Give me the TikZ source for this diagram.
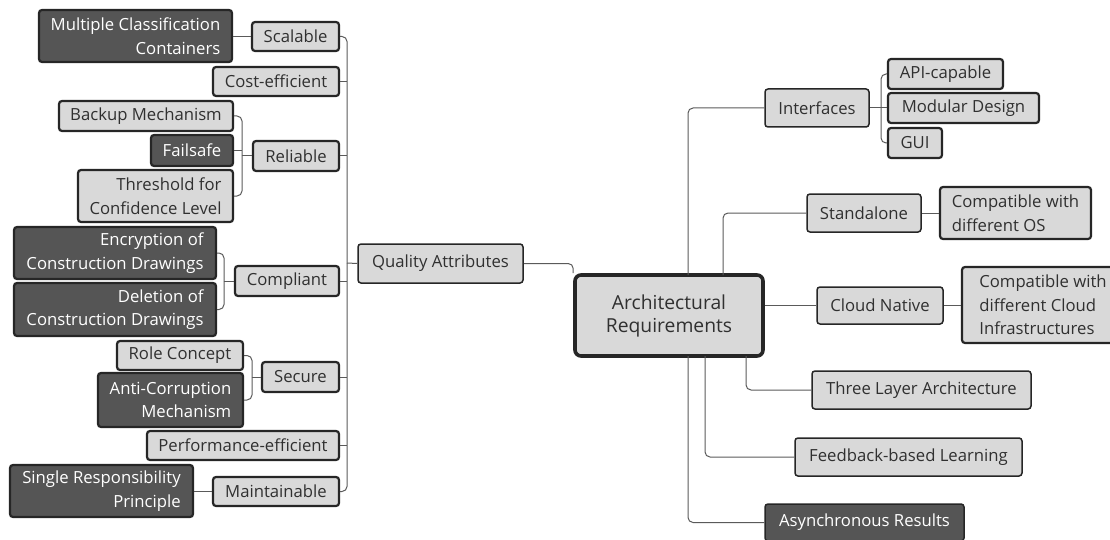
\documentclass[tikz,border=0pt]{standalone}
\usepackage{fontspec}
\setmainfont{Open Sans}
\definecolor{boxfill}{HTML}{D9D9D9}
\definecolor{darkfill}{HTML}{555555}
\definecolor{edge}{HTML}{262626}
\definecolor{wire}{HTML}{5A5A5A}
\definecolor{ink}{HTML}{303030}

% box given by its corners: style, name, x1, y1, x2, y2, text
\newcommand\boxat[7]{\node[#1, minimum width={#5-#3}, minimum height={#6-#4}] (#2) at ({(#3+#5)/2},{(#4+#6)/2}) {#7};}

\begin{document}
\begin{tikzpicture}[x=1pt,y=-1pt,
  base/.style={rectangle, rounded corners=3pt, draw=edge, inner sep=0pt, text=ink,
    font=\fontsize{16.7}{23.5}\selectfont},
  lvl/.style={base, fill=boxfill, line width=1.5pt},
  leaf/.style={base, fill=boxfill, line width=2.2pt},
  darkleaf/.style={base, fill=darkfill, text=white, line width=2.2pt},
  darklvl/.style={base, fill=darkfill, text=white, line width=1.5pt},
  rootbox/.style={base, fill=boxfill, line width=3.6pt, rounded corners=6pt, draw=black!85,
    align=center, font=\fontsize{19.3}{23}\selectfont},
  conn/.style={draw=wire, line width=1pt, rounded corners=5pt}]

\useasboundingbox (0,0) rectangle (1110,540);

% central topic
\boxat{rootbox}{root}{575}{275}{763}{356}{Architectural\\Requirements}

% quality attributes branch
\boxat{lvl}{qa}{358}{244}{523}{283}{Quality Attributes}
\boxat{leaf}{scal}{252}{22}{339}{51}{Scalable}
\boxat{darkleaf,align=right}{mcc}{39}{10}{232}{62}{Multiple Classification\\Containers}
\boxat{leaf}{cost}{213}{67}{339}{96}{Cost-efficient}
\boxat{leaf}{backup}{59}{101}{233}{131}{Backup Mechanism}
\boxat{darkleaf}{fail}{151}{135}{233}{166}{Failsafe}
\boxat{leaf}{rel}{253}{141}{339}{171}{Reliable}
\boxat{leaf,align=right}{thr}{78}{170}{233}{222}{Threshold for\\Confidence Level}
\boxat{darkleaf,align=right}{enc}{14}{227}{216}{279}{Encryption of\\Construction Drawings}
\boxat{leaf}{comp}{235}{266}{339}{296}{Compliant}
\boxat{darkleaf,align=right}{del}{14}{283}{216}{336}{Deletion of\\Construction Drawings}
\boxat{leaf}{role}{117}{341}{243}{370}{Role Concept}
\boxat{darkleaf,align=right}{anti}{98}{373}{243}{427}{Anti-Corruption\\Mechanism}
\boxat{leaf}{sec}{262}{362}{339}{392}{Secure}
\boxat{leaf}{perf}{147}{431}{339}{460}{Performance-efficient}
\boxat{darkleaf,align=right}{srp}{10}{465}{193}{517}{Single Responsibility\\Principle}
\boxat{leaf}{maint}{213}{477}{339}{506}{Maintainable}

% right-hand branches
\boxat{lvl}{int}{765}{89}{869}{127}{Interfaces}
\boxat{leaf}{api}{888}{59}{1003}{89}{API-capable}
\boxat{leaf}{mod}{888}{93}{1039}{123}{Modular Design}
\boxat{leaf}{gui}{888}{128}{942}{158}{GUI}
\boxat{lvl}{sa}{807}{194}{921}{232}{Standalone}
\boxat{leaf,align=left}{cos}{940}{187}{1091}{239}{Compatible with\\different OS}
\boxat{lvl}{cn}{817}{287}{943}{324}{Cloud Native}
\boxat{leaf,align=left}{cci}{962}{267}{1124}{343}{Compatible with\\different Cloud\\Infrastructures}
\boxat{lvl}{tla}{812}{371}{1031}{409}{Three Layer Architecture}
\boxat{lvl}{fbl}{795}{438}{1022}{476}{Feedback-based Learning}
\boxat{darklvl}{asy}{765}{504}{964}{541}{Asynchronous Results}

% junction points
\coordinate (trunk) at (347,263);
\coordinate (relj) at (242,156);
\coordinate (cmpj) at (224,281);
\coordinate (secj) at (252,377);
\coordinate (intj) at (881,108);
\coordinate (topI) at (688,275);
\coordinate (topS) at (723,275);
\coordinate (botT) at (746,356);
\coordinate (botF) at (705,356);
\coordinate (botA) at (688,356);

% trunk of the quality attributes
\draw[conn] (scal.east) -| (trunk);
\draw[conn] (maint.east) -| (trunk);
\draw[conn] (qa.west) -- (trunk);
\foreach \n in {cost,rel,comp,sec,perf} \draw[conn] (\n.east) -- (\n.east -| trunk);
\draw[conn] (qa.east) -| (root.north west);

% second level groups on the left
\draw[conn] (scal.west) -- (scal.west -| mcc.east);
\draw[conn] (backup.east) -| (relj);
\draw[conn] (thr.east) -| (relj);
\draw[conn] (fail.east) -- (fail.east -| relj);
\draw[conn] (rel.west) -- (relj);
\draw[conn] (enc.east) -| (cmpj);
\draw[conn] (del.east) -| (cmpj);
\draw[conn] (comp.west) -- (cmpj);
\draw[conn] (role.east) -| (secj);
\draw[conn] (anti.east) -| (secj);
\draw[conn] (sec.west) -- (secj);
\draw[conn] (maint.west) -- (maint.west -| srp.east);

% branches on the right
\draw[conn] (int.west) -| (topI);
\draw[conn] (sa.west) -| (topS);
\draw[conn] (cn.west) -- (cn.west -| root.east);
\draw[conn] (tla.west) -| (botT);
\draw[conn] (fbl.west) -| (botF);
\draw[conn] (asy.west) -| (botA);
\draw[conn] (api.west) -| (intj);
\draw[conn] (gui.west) -| (intj);
\draw[conn] (int.east) -- (mod.west);
\draw[conn] (sa.east) -- (cos.west);
\draw[conn] (cn.east) -- (cn.east -| cci.west);
\end{tikzpicture}
\end{document}
